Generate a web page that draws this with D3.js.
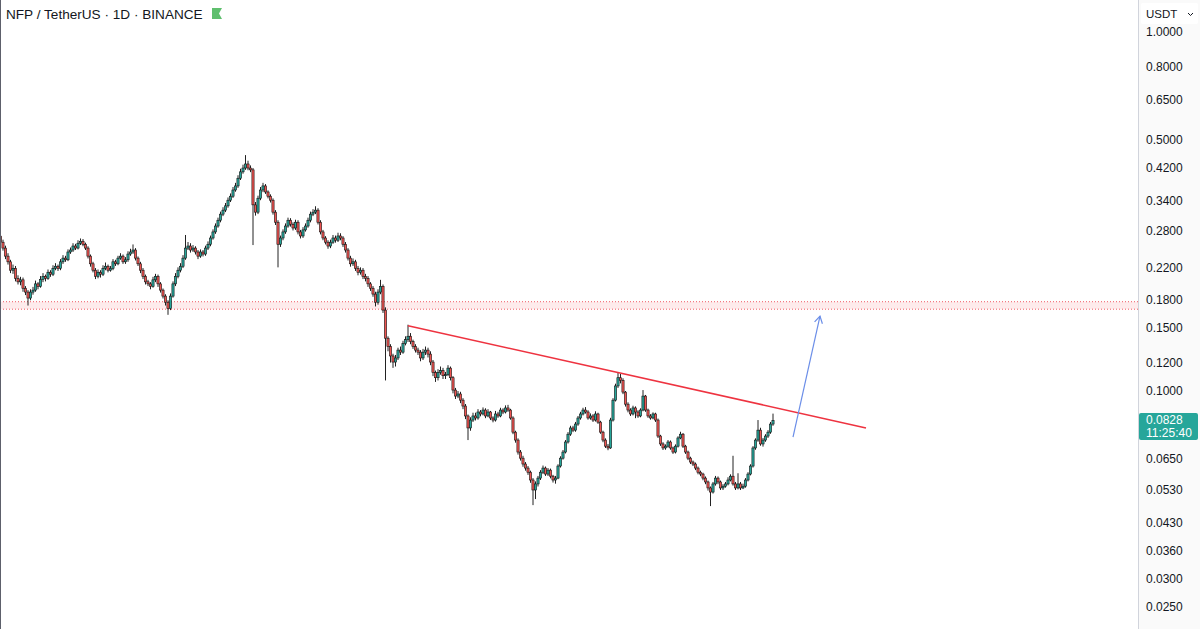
<!DOCTYPE html>
<html><head><meta charset="utf-8">
<script src="https://cdn.jsdelivr.net/npm/d3@7"></script>
<style>html,body{margin:0;padding:0;background:#fff;overflow:hidden}</style>
</head><body>
<svg id="c" width="1200" height="629"></svg>
<script>
// ---- data (daily candles, NFP/USDT) ----
const firstOpen = 0.270;
const closes = [
.2597,.2501,.2375,.229,.217,.2197,.206,.2014,.204,.1933,
.1886,.1815,.1886,.191,.1988,.1957,.2047,.2087,.206,.2142,
.2115,.2197,.2226,.2197,.229,.2345,.232,.2439,.247,.2534,
.2501,.258,.2613,.2563,.2501,.2375,.2261,.217,.2087,.2142,
.2115,.2197,.2226,.217,.2197,.229,.2261,.2345,.2375,.229,
.232,.2407,.2439,.247,.2345,.2261,.217,.2087,.2014,.1988,
.1957,.204,.2087,.1988,.191,.1838,.1767,.1697,.1838,.1988,
.2087,.217,.2226,.2345,.2501,.2534,.247,.2501,.2439,.2375,
.2439,.2407,.2501,.2563,.2668,.2774,.2881,.299,.3109,.319,
.3279,.340,.3488,.363,.3726,.3914,.4078,.4179,.4289,.4179,
.413,.330,.3149,.3443,.363,.3726,.3584,.3488,.340,.3149,
.2952,.2563,.2668,.2774,.2881,.299,.2914,.2845,.2952,.2774,
.2703,.281,.2881,.299,.3109,.3149,.319,.2952,.2774,.2668,
.2597,.2534,.2597,.2668,.263,.2703,.2668,.2563,.247,.2345,
.2261,.229,.2197,.2142,.217,.2087,.206,.1988,.1933,.1862,
.1767,.1886,.1957,.168,.1403,.1331,.1252,.1204,.1236,.130,
.1283,.1355,.139,.1421,.1372,.1331,.130,.1283,.1236,.1283,
.130,.1267,.1204,.1126,.1089,.1126,.114,.1103,.1111,.1158,
.1089,.1006,.0968,.0981,.0943,.0908,.0852,.0789,.083,.0852,
.0841,.0874,.0863,.0885,.0852,.0874,.0841,.083,.0863,.0852,
.0885,.0874,.0897,.0885,.0841,.0768,.073,.0676,.065,.0626,
.061,.0594,.0565,.053,.0551,.0572,.0594,.061,.0587,.0602,
.0579,.0565,.0572,.0618,.065,.0676,.0721,.0758,.0789,.0778,
.0809,.0841,.0863,.0885,.0874,.0841,.0852,.083,.0863,.0819,
.0768,.073,.0702,.0694,.083,.0943,.1033,.1089,.107,.0993,
.0919,.0885,.0863,.0897,.0874,.0852,.0885,.0968,.0885,.0852,
.0841,.0863,.083,.0749,.0712,.0694,.0702,.0721,.0694,.0676,
.0702,.074,.0758,.0702,.0676,.065,.0634,.0626,.061,.0594,
.0587,.0572,.0558,.0537,.0523,.0551,.0572,.0558,.0537,.0543,
.0551,.0565,.0579,.0551,.0537,.0551,.0537,.0543,.0565,.0587,
.0618,.0694,.073,.0778,.0712,.073,.0749,.0768,.0809,.0828
];
const highs = [
.2745,.264,.254,.242,.232,.225,.223,.21,.208,.207,
.196,.191,.192,.195,.203,.201,.209,.213,.211,.218,
.217,.224,.227,.225,.233,.239,.238,.248,.251,.258,
.257,.263,.266,.265,.259,.253,.24,.229,.22,.218,
.217,.224,.228,.225,.223,.233,.232,.238,.242,.24,
.236,.245,.249,.256,.25,.237,.229,.22,.211,.204,
.201,.208,.212,.211,.201,.193,.186,.179,.187,.202,
.213,.221,.227,.239,.272,.26,.258,.255,.253,.247,
.248,.247,.254,.261,.271,.282,.293,.304,.316,.325,
.334,.346,.355,.37,.38,.399,.416,.427,.454,.438,
.425,.418,.336,.35,.37,.38,.377,.362,.353,.344,
.319,.299,.271,.282,.293,.304,.303,.295,.30,.299,
.281,.286,.293,.304,.316,.321,.327,.323,.299,.281,
.27,.263,.264,.272,.271,.276,.275,.27,.26,.25,
.238,.234,.232,.223,.221,.22,.212,.209,.201,.196,
.189,.192,.204,.198,.171,.142,.135,.127,.126,.132,
.133,.138,.142,.153,.145,.139,.135,.132,.13,.131,
.133,.132,.129,.122,.114,.115,.117,.116,.113,.118,
.117,.11,.102,.10,.0995,.0955,.092,.086,.0845,.087,
.087,.089,.0885,.09,.0895,.089,.088,.085,.088,.0875,
.0898,.0895,.0912,.0915,.0892,.085,.0775,.0738,.0685,.066,
.0634,.0618,.06,.0572,.056,.058,.0602,.062,.0616,.061,
.0608,.0584,.058,.0625,.0658,.0685,.073,.0768,.08,.08,
.082,.0852,.0875,.0898,.0902,.0884,.0866,.0862,.0878,.087,
.0826,.0775,.0738,.0712,.0842,.0955,.1048,.1125,.1115,.1085,
.10,.093,.0895,.091,.0906,.0884,.0895,.1006,.0975,.0893,
.0862,.0872,.087,.0838,.0755,.072,.071,.073,.0728,.07,
.071,.0748,.077,.0764,.0708,.0682,.0656,.064,.0632,.0616,
.06,.0592,.0578,.0563,.0542,.0558,.058,.0578,.0563,.055,
.0558,.0575,.0586,.066,.0558,.059,.0558,.0552,.0572,.0594,
.0625,.0702,.0738,.083,.079,.074,.0758,.0778,.082,.0865
];
const lows = [
.256,.246,.233,.225,.213,.212,.202,.198,.197,.189,
.185,.173,.179,.1855,.189,.192,.194,.201,.202,.204,
.208,.209,.217,.216,.217,.226,.229,.23,.241,.244,
.247,.248,.255,.253,.247,.234,.222,.214,.205,.206,
.207,.209,.217,.214,.215,.217,.223,.224,.232,.226,
.226,.229,.238,.241,.231,.223,.213,.205,.198,.196,
.192,.194,.201,.195,.188,.181,.173,.163,.168,.182,
.196,.206,.214,.22,.232,.247,.243,.244,.24,.233,
.235,.237,.238,.247,.253,.264,.274,.285,.295,.307,
.315,.324,.336,.345,.359,.368,.387,.403,.413,.412,
.407,.255,.308,.311,.34,.358,.354,.344,.335,.31,
.29,.221,.252,.263,.274,.285,.287,.28,.281,.273,
.266,.267,.278,.285,.295,.307,.311,.291,.273,.263,
.256,.249,.25,.257,.259,.26,.263,.252,.243,.231,
.222,.223,.216,.21,.211,.205,.202,.195,.19,.183,
.172,.174,.186,.165,.107,.129,.12,.116,.117,.122,
.126,.127,.134,.137,.135,.131,.128,.126,.121,.122,
.126,.124,.118,.11,.106,.107,.111,.108,.108,.11,
.107,.0985,.095,.0955,.0925,.089,.0835,.073,.0775,.082,
.0828,.0832,.085,.0855,.084,.0845,.083,.0818,.0822,.0842,
.0845,.0862,.0866,.0875,.0832,.0758,.0718,.0665,.064,.0615,
.06,.0584,.0555,.0481,.05,.0542,.0565,.0587,.058,.058,
.0571,.0556,.0552,.0568,.0612,.0644,.067,.0714,.075,.0768,
.077,.08,.0832,.0855,.0865,.0832,.0832,.082,.0822,.081,
.076,.072,.0694,.0684,.069,.0822,.0935,.102,.105,.098,
.0905,.0872,.0852,.0855,.084,.0842,.0845,.0878,.0875,.0842,
.0832,.0834,.082,.074,.0703,.0685,.0686,.0695,.0686,.0668,
.067,.0696,.0734,.0694,.0668,.0642,.0626,.0618,.0602,.0586,
.0579,.0564,.055,.0528,.0478,.0518,.0545,.055,.053,.053,
.0538,.0546,.056,.0545,.053,.0532,.053,.0533,.0538,.056,
.0582,.0612,.0686,.0722,.0704,.07,.0722,.074,.076,.08
];
const yTicks = [1.0,0.8,0.65,0.5,0.42,0.34,0.28,0.22,0.18,0.15,0.12,0.1,0.065,0.053,0.043,0.036,0.03,0.025];
const titleText = "NFP / TetherUS \u00b7 1D \u00b7 BINANCE";
const currency = "USDT";
const lastPrice = 0.0828;
const countdown = "11:25:40";
const zone = [0.169, 0.1773];
const trendLine = [{i:163, p:0.152}, {i:346.2, p:0.0789}];
const arrowLine = [{i:317, p:0.0744}, {i:327.8, p:0.1617}];

// ---- build ----
const candles = closes.map((c, i) => ({
  i, o: i === 0 ? firstOpen : closes[i-1], h: highs[i], l: lows[i], c
}));

const W = 1200, H = 629, plotW = 1138;
const svg = d3.select("#c");
const font = "'Liberation Sans', Arial, Helvetica, sans-serif";

const x = d3.scaleLinear().domain([0, closes.length - 1]).range([0.5, 773]);
const y = d3.scaleLog().domain([1, 0.1]).range([32, 391]);

svg.append("rect").attr("width", W).attr("height", H).attr("fill", "#fff");

svg.append("defs").append("clipPath").attr("id", "plot")
  .append("rect").attr("x", 1).attr("y", 0).attr("width", plotW - 1).attr("height", H);

const g = svg.append("g").attr("clip-path", "url(#plot)");

// resistance zone
g.append("rect")
  .attr("x", 0).attr("width", plotW)
  .attr("y", y(zone[1])).attr("height", y(zone[0]) - y(zone[1]))
  .attr("fill", "rgba(242,54,69,0.10)");
zone.forEach(p => {
  g.append("line").attr("x1", 0).attr("x2", plotW)
    .attr("y1", y(p)).attr("y2", y(p))
    .attr("stroke", "#f05a64").attr("stroke-width", 1).attr("stroke-dasharray", "1,2");
});

// wicks
g.append("g").selectAll("line").data(candles).join("line")
  .attr("x1", d => x(d.i)).attr("x2", d => x(d.i))
  .attr("y1", d => y(d.h)).attr("y2", d => y(d.l))
  .attr("stroke", "#222").attr("stroke-width", 1);

// bodies
g.append("g").selectAll("rect").data(candles).join("rect")
  .attr("x", d => x(d.i) - 1.1)
  .attr("width", 2.2)
  .attr("y", d => y(Math.max(d.o, d.c)))
  .attr("height", d => Math.max(0.8, Math.abs(y(d.o) - y(d.c))))
  .attr("fill", d => d.c >= d.o ? "#26a69a" : "#ef5350")
  .attr("stroke", "#111").attr("stroke-width", 0.6);

// trend line
g.append("line")
  .attr("x1", x(trendLine[0].i)).attr("y1", y(trendLine[0].p))
  .attr("x2", x(trendLine[1].i)).attr("y2", y(trendLine[1].p))
  .attr("stroke", "#ee3340").attr("stroke-width", 1.6);

// arrow
const ax1 = x(arrowLine[0].i), ay1 = y(arrowLine[0].p);
const ax2 = x(arrowLine[1].i), ay2 = y(arrowLine[1].p);
const ang = Math.atan2(ay2 - ay1, ax2 - ax1);
const hl = 8, ha = Math.PI / 6;
g.append("line").attr("x1", ax1).attr("y1", ay1).attr("x2", ax2).attr("y2", ay2)
  .attr("stroke", "#6b8ee8").attr("stroke-width", 1.2);
g.append("path")
  .attr("d", `M${ax2 - hl*Math.cos(ang - ha)},${ay2 - hl*Math.sin(ang - ha)} L${ax2},${ay2} L${ax2 - hl*Math.cos(ang + ha)},${ay2 - hl*Math.sin(ang + ha)}`)
  .attr("fill", "none").attr("stroke", "#6b8ee8").attr("stroke-width", 1.2);

// left border
svg.append("line").attr("x1", 0.5).attr("x2", 0.5).attr("y1", 0).attr("y2", H)
  .attr("stroke", "#5d606b").attr("stroke-width", 1);

// price axis panel
svg.append("rect").attr("x", plotW).attr("y", 0).attr("width", W - plotW).attr("height", H)
  .attr("fill", "#fafafa");
svg.append("line").attr("x1", plotW + 0.5).attr("x2", plotW + 0.5).attr("y1", 0).attr("y2", H)
  .attr("stroke", "#d1d4dc").attr("stroke-width", 1);

const axis = d3.axisRight(y).tickValues(yTicks).tickFormat(d3.format(".4f")).tickSize(0).tickPadding(0);
const axG = svg.append("g").attr("transform", `translate(${plotW + 8},0)`).call(axis);
axG.select(".domain").remove();
axG.selectAll("text").attr("font-family", font).attr("font-size", 12).attr("fill", "#131722")
  .attr("text-anchor", "start");

// currency selector
svg.append("rect").attr("x", plotW + 3).attr("y", 3).attr("width", 57).attr("height", 21)
  .attr("fill", "#fff").attr("rx", 2);
svg.append("text").attr("x", plotW + 8).attr("y", 18).text(currency)
  .attr("font-family", font).attr("font-size", 11.5).attr("fill", "#131722");
svg.append("path").attr("d", `M${plotW + 50},13 l2.5,2.5 l2.5,-2.5`)
  .attr("fill", "none").attr("stroke", "#131722").attr("stroke-width", 1);

// last price label
const lp = y(lastPrice);
svg.append("rect").attr("x", plotW + 1).attr("y", lp - 7.5).attr("width", 59).attr("height", 27)
  .attr("rx", 2).attr("fill", "#26a69a");
svg.append("text").attr("x", plotW + 8).attr("y", lp + 4).text(d3.format(".4f")(lastPrice))
  .attr("font-family", font).attr("font-size", 12).attr("fill", "#fff");
svg.append("text").attr("x", plotW + 8).attr("y", lp + 16.5).text(countdown)
  .attr("font-family", font).attr("font-size", 12).attr("fill", "#fff");

// title
svg.append("text").attr("x", 6).attr("y", 19).text(titleText)
  .attr("font-family", font).attr("font-size", 13.6).attr("fill", "#131722");
svg.append("path").attr("d", "M212,8 H222 L219,13.5 L222,19 H212 Z").attr("fill", "#5fbf6e");
</script>
</body></html>
